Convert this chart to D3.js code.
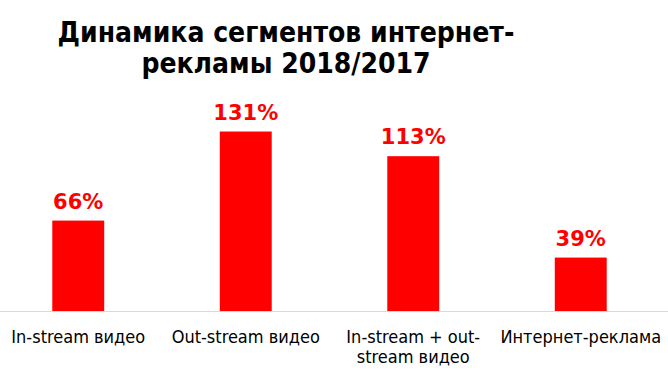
<!DOCTYPE html>
<html><head><meta charset="utf-8">
<script src="https://cdn.jsdelivr.net/npm/d3@7"></script>
<style>body{margin:0;background:#fff}svg{display:block}</style>
</head><body>
<svg id="c" width="668" height="380"></svg>
<script>
const categories = [["In-stream видео"], ["Out-stream видео"], ["In-stream + out-", "stream видео"], ["Интернет-реклама"]];
const values = [66, 131, 113, 39];
const valueLabels = ["66%", "131%", "113%", "39%"];
const titleLines = ["Динамика сегментов интернет-", "рекламы 2018/2017"];

const svg = d3.select("#c");
const W = 668, H = 380;
const base = 311;
const x = d3.scaleBand().domain(d3.range(values.length)).range([-5.5, 664.5]).paddingInner(0.69).paddingOuter(0.345);
const y = d3.scaleLinear().domain([0, 140]).range([base, base - 191.8]);

svg.append("rect").attr("width", W).attr("height", H).attr("fill", "#fff");

// title
const title = svg.append("text").attr("text-anchor", "middle")
  .attr("font-family", "'DejaVu Sans Condensed', 'DejaVu Sans', sans-serif")
  .attr("font-weight", "bold").attr("font-size", 28).attr("fill", "#000");
title.selectAll("tspan").data(titleLines).join("tspan")
  .attr("x", 286).attr("y", (d, i) => 42 + i * 31).text(d => d);

// bars
svg.selectAll("rect.bar").data(values).join("rect").attr("class", "bar")
  .attr("x", (d, i) => x(i)).attr("width", x.bandwidth())
  .attr("y", d => y(d)).attr("height", d => y(0) - y(d)).attr("fill", "#ff0000");

// axis line
svg.append("line").attr("x1", 0).attr("x2", W).attr("y1", base + 0.5).attr("y2", base + 0.5)
  .attr("stroke", "#d9d9d9").attr("stroke-width", 1);

// value labels
svg.selectAll("text.val").data(values).join("text").attr("class", "val")
  .attr("x", (d, i) => x(i) + x.bandwidth() / 2).attr("y", d => y(d) - 12)
  .attr("text-anchor", "middle").attr("font-family", "'DejaVu Sans', sans-serif")
  .attr("font-weight", "bold").attr("font-size", 21).attr("fill", "#ff0000")
  .text((d, i) => valueLabels[i]);

// category labels
const cat = svg.selectAll("text.cat").data(categories).join("text").attr("class", "cat")
  .attr("text-anchor", "middle").attr("font-family", "'DejaVu Sans Condensed', 'DejaVu Sans', sans-serif")
  .attr("font-size", 18).attr("fill", "#000");
cat.each(function(d, i) {
  d3.select(this).selectAll("tspan").data(d).join("tspan")
    .attr("x", x(i) + x.bandwidth() / 2).attr("y", (t, j) => 343 + j * 20).text(t => t);
});
</script>
</body></html>
